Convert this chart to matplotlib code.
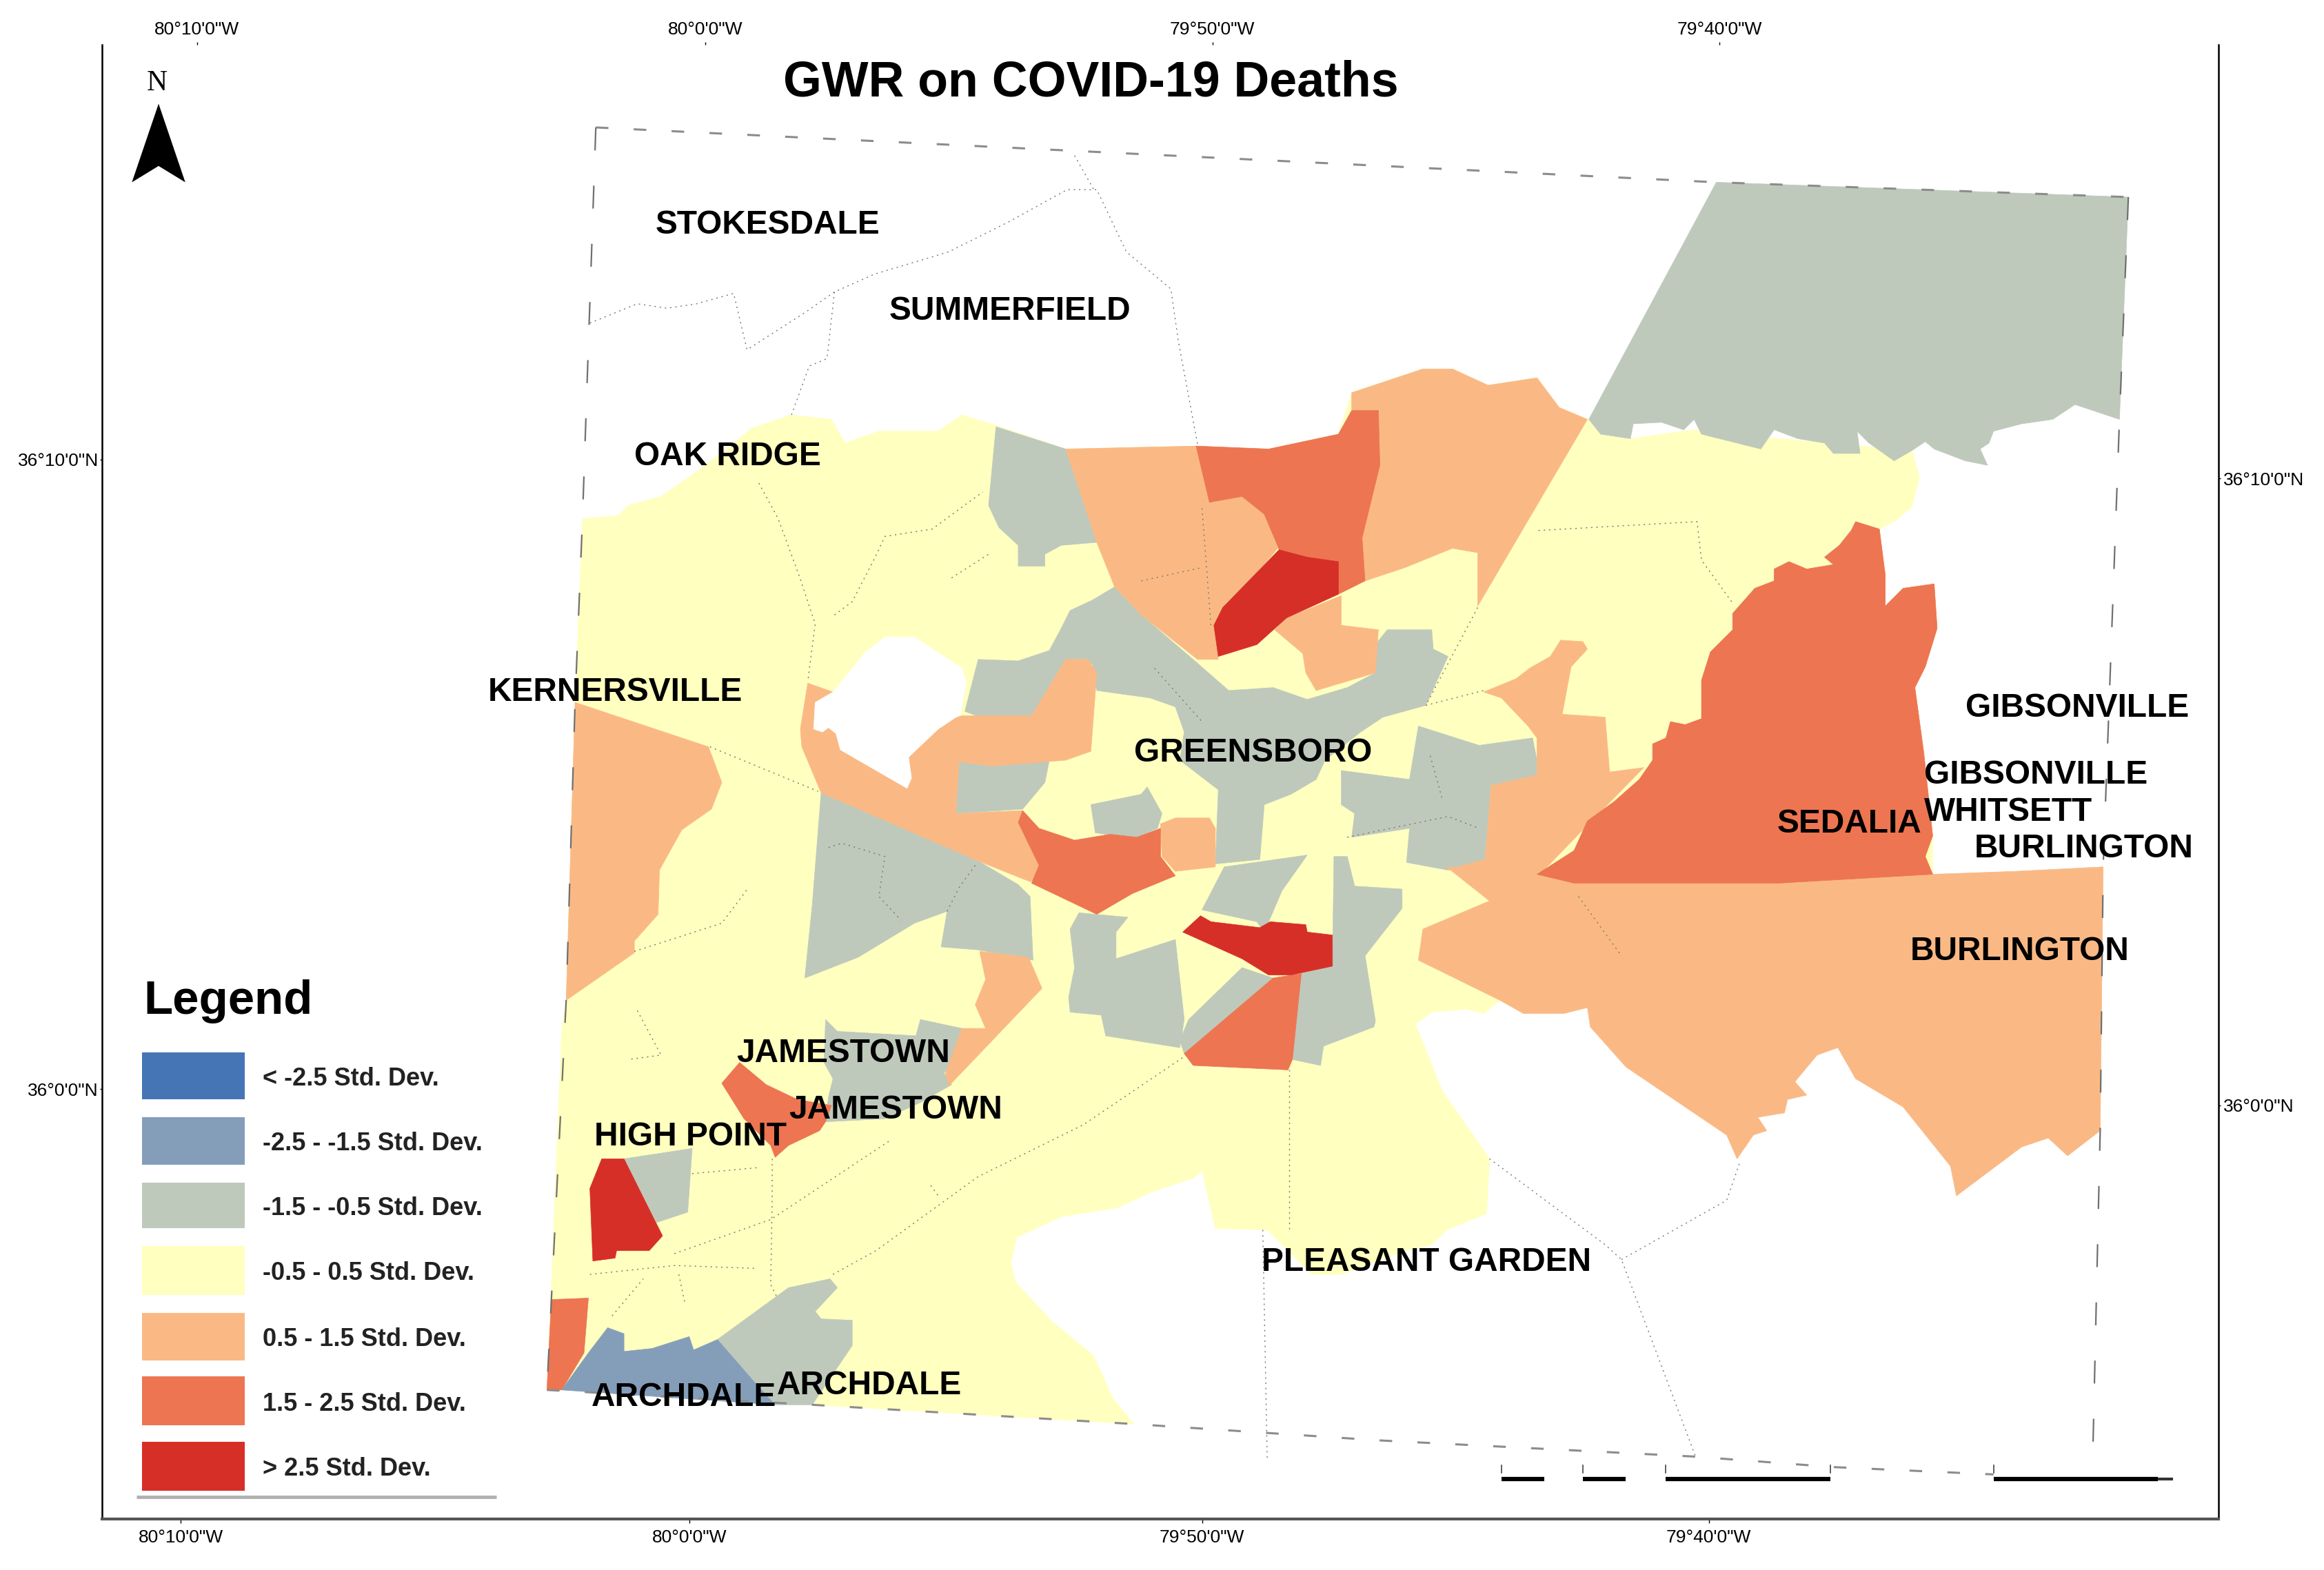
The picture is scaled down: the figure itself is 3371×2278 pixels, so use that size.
"""GWR on COVID-19 Deaths: choropleth map of Guilford County tracts."""

import matplotlib
matplotlib.use("Agg")
import matplotlib.pyplot as plt
from matplotlib.patches import Polygon, Rectangle

# map outlines, in map units of the sheet (x to the east, y downwards)
yellow_zones = [
    [(393, 350), (417, 348), (424, 341), (446, 335), (469, 319), (490, 303), (507, 289), (534, 280), (561, 283),
     (570, 299), (593, 291), (633, 291), (649, 280), (672, 287), (719, 303), (807, 301), (856, 303), (903, 293),
     (912, 265), (960, 249), (980, 249), (1004, 260), (1037, 255), (1052, 275), (1071, 283), (1100, 296),
     (1143, 290), (1200, 296), (1290, 304), (1295, 322), (1290, 342), (1278, 352), (1268, 357), (1272, 388),
     (1272, 409), (1284, 397), (1305, 394), (1307, 424), (1299, 450), (1292, 464), (1298, 508), (1304, 564),
     (1304, 590), (1071, 680), (1028, 684), (1012, 675), (1001, 684), (989, 681), (966, 683), (955, 691),
     (973, 736), (1005, 782), (1003, 819), (976, 830), (966, 840), (945, 845), (905, 860), (885, 860),
     (855, 830), (820, 829), (811, 790), (805, 795), (778, 804), (754, 815), (716, 821), (686, 835), (682, 852),
     (685, 865), (710, 892), (738, 915), (751, 944), (765, 961), (548, 948), (379, 938), (369, 938), (372, 867),
     (379, 694), (382, 675), (388, 474)],
]
gray_zones = [
    [(1072, 283), (1158, 123), (1436, 133), (1430, 283), (1400, 273), (1385, 283), (1364, 286), (1345, 291),
     (1342, 299), (1336, 303), (1341, 314), (1326, 311), (1305, 303), (1299, 298), (1290, 304), (1278, 311),
     (1261, 299), (1253, 291), (1255, 306), (1237, 306), (1231, 299), (1213, 296), (1197, 290), (1188, 303),
     (1172, 299), (1148, 293), (1143, 283), (1136, 290), (1121, 285), (1102, 286), (1100, 296), (1080, 293)],
    [(672, 288), (719, 303), (740, 366), (716, 368), (705, 374), (705, 382), (687, 382), (687, 368), (674, 356),
     (667, 341)],
    [(660, 445), (687, 446), (708, 439), (716, 424), (722, 412), (737, 405), (752, 396), (770, 415), (805, 445),
     (829, 466), (859, 464), (882, 472), (909, 464), (928, 454), (928, 435), (936, 425), (966, 425), (967, 438),
     (977, 443), (962, 476), (933, 484), (918, 494), (894, 513), (888, 526), (871, 536), (853, 543), (850, 580),
     (820, 583), (822, 533), (796, 513), (799, 494), (793, 477), (776, 471), (740, 466), (737, 448), (722, 445),
     (704, 471), (696, 483), (674, 489), (651, 480)],
    [(647, 514), (669, 517), (708, 513), (705, 528), (690, 546), (645, 549)],
    [(736, 543), (770, 536), (774, 531), (784, 549), (781, 559), (767, 565), (746, 563), (739, 562)],
    [(554, 535), (660, 581), (687, 597), (695, 605), (697, 648), (660, 641), (635, 639), (639, 615), (617, 623),
     (579, 646), (543, 660), (548, 611)],
    [(557, 688), (565, 696), (618, 699), (621, 688), (649, 694), (648, 711), (637, 724), (642, 732), (621, 744),
     (597, 755), (557, 757), (559, 740), (562, 728), (556, 717)],
    [(421, 782), (467, 775), (464, 818), (443, 825)],
    [(484, 904), (532, 869), (560, 863), (565, 869), (550, 885), (554, 890), (575, 891), (575, 908), (548, 948),
     (523, 948), (511, 935)],
    [(957, 490), (998, 503), (1034, 498), (1037, 513), (1037, 523), (1006, 530), (1002, 580), (976, 587),
     (949, 582), (951, 559), (912, 565), (914, 549), (905, 543), (905, 520), (951, 526)],
    [(826, 585), (882, 577), (865, 601), (853, 629), (848, 622), (811, 614)],
    [(900, 578), (909, 578), (914, 598), (946, 600), (946, 613), (921, 645), (899, 652)],
    [(921, 645), (928, 689), (927, 693), (893, 706), (891, 719), (872, 715), (878, 657), (899, 652)],
    [(838, 653), (859, 660), (799, 711), (796, 702), (802, 688)],
    [(722, 627), (728, 616), (761, 619), (753, 629), (753, 647), (793, 634), (799, 688), (796, 707),
     (746, 699), (743, 685), (722, 683), (721, 673), (725, 653)],
]
light_orange_zones = [
    [(1037, 590), (1062, 596), (1200, 596), (1304, 590), (1360, 588), (1419, 585), (1417, 763), (1395, 780),
     (1382, 768), (1364, 774), (1320, 807), (1316, 787), (1284, 747), (1252, 728), (1240, 707), (1226, 712),
     (1211, 730), (1219, 739), (1206, 742), (1204, 751), (1186, 754), (1192, 763), (1183, 766), (1172, 782),
     (1165, 766), (1097, 720), (1073, 693), (1071, 680), (1055, 684), (1028, 684), (1012, 675), (957, 648),
     (960, 627), (1005, 608), (976, 585)],
    [(976, 587), (1002, 580), (1006, 530), (1037, 523), (1037, 498), (1031, 490), (1013, 471), (1001, 467),
     (1023, 458), (1032, 451), (1046, 443), (1053, 432), (1068, 433), (1071, 438), (1060, 450), (1054, 482),
     (1083, 484), (1086, 521), (1109, 518), (1066, 562), (1037, 592)],
    [(545, 461), (562, 467), (580, 470), (600, 500), (649, 483), (696, 483), (719, 445), (734, 445), (740, 454),
     (736, 507), (719, 513), (669, 517), (647, 514), (645, 549), (690, 547), (695, 572), (704, 591), (695, 595),
     (660, 581), (554, 535), (541, 504), (540, 492)],
    [(783, 556), (793, 552), (816, 552), (820, 559), (820, 585), (793, 588), (784, 578)],
    [(661, 642), (694, 646), (703, 667), (640, 733), (638, 724), (649, 694), (665, 694), (658, 678), (665, 661)],
    [(719, 303), (807, 301), (816, 339), (838, 335), (853, 347), (862, 370), (819, 422), (822, 445), (808, 445),
     (770, 415), (752, 396), (740, 366)],
    [(912, 265), (960, 249), (980, 249), (1004, 260), (1037, 255), (1052, 275), (1071, 283), (997, 409),
     (997, 373), (980, 370), (948, 383), (921, 392), (919, 363), (931, 314), (930, 277), (912, 277)],
    [(905, 402), (905, 422), (930, 425), (928, 454), (888, 466), (881, 454), (879, 441), (860, 425), (868, 417)],
    [(388, 474), (478, 504), (487, 528), (480, 546), (460, 560), (445, 587), (444, 617), (428, 635), (428, 643),
     (382, 675)],
]
dark_orange_zones = [
    [(1268, 357), (1252, 352), (1249, 358), (1241, 368), (1231, 376), (1237, 381), (1219, 384), (1207, 379),
     (1197, 384), (1197, 392), (1184, 397), (1169, 414), (1169, 425), (1154, 440), (1148, 459), (1148, 485),
     (1137, 489), (1127, 487), (1124, 498), (1115, 502), (1115, 513), (1106, 526), (1089, 541), (1071, 554),
     (1062, 574), (1037, 590), (1062, 596), (1200, 596), (1304, 590), (1299, 578), (1304, 564), (1298, 508),
     (1292, 464), (1299, 450), (1307, 424), (1305, 394), (1284, 397), (1272, 409), (1272, 388)],
    [(807, 301), (856, 303), (903, 293), (912, 277), (930, 277), (931, 314), (919, 363), (921, 392), (903, 401),
     (903, 379), (882, 376), (863, 371), (853, 347), (838, 335), (816, 339)],
    [(690, 547), (701, 559), (725, 567), (749, 563), (767, 565), (783, 559), (783, 578), (793, 591), (764, 603),
     (740, 617), (696, 596), (701, 584), (687, 555)],
    [(878, 657), (872, 715), (869, 722), (805, 719), (799, 711), (859, 660)],
    [(499, 717), (487, 731), (502, 755), (520, 773), (523, 781), (532, 773), (553, 763), (557, 757), (561, 746),
     (538, 742), (517, 732)],
    [(372, 877), (397, 876), (394, 913), (379, 938), (369, 938)],
]
red_zones = [
    [(863, 371), (882, 376), (903, 379), (903, 401), (868, 417), (848, 435), (822, 443), (819, 422), (825, 410)],
    [(798, 629), (810, 618), (817, 622), (850, 626), (857, 622), (881, 624), (882, 629), (899, 631), (899, 652),
     (871, 658), (856, 658), (838, 647)],
    [(406, 782), (421, 782), (447, 834), (438, 844), (416, 844), (415, 849), (400, 851), (398, 802)],
]
blue_gray_zones = [
    [(410, 896), (421, 900), (421, 912), (440, 910), (465, 902), (468, 911), (484, 904), (511, 935), (523, 948),
     (379, 938), (397, 913)],
]
white_hole = [(550, 474), (562, 467), (584, 440), (597, 430), (617, 430), (649, 451), (652, 460), (648, 482),
              (633, 492), (613, 511), (615, 525), (612, 532), (567, 506), (564, 495), (559, 491), (555, 494),
              (549, 492)]

# county edge, the east and west sides are drawn with longer dashes
edge_north = [(402, 86), (1158, 123), (1436, 133)]
edge_south = [(369, 938), (548, 948), (765, 961), (930, 972), (1144, 983), (1236, 990), (1345, 995)]
edge_west = [(402, 86), (393, 350), (388, 474), (382, 675), (369, 938)]
edge_east = [(1436, 133), (1430, 283), (1419, 585), (1417, 763), (1412, 982)]

tract_lines = [
    [(398, 218), (430, 205), (450, 208), (470, 205), (495, 198), (504, 236), (543, 211), (563, 197), (590, 185),
     (640, 170), (680, 150), (720, 128), (740, 128), (760, 170), (790, 195), (795, 230), (808, 300)],
    [(725, 105), (738, 128)],
    [(563, 197), (558, 242), (546, 247), (534, 280)],
    [(852, 830), (855, 985)],
    [(1005, 782), (1083, 840), (1094, 850), (1144, 983)],
    [(1094, 850), (1165, 810), (1174, 784)],
    [(479, 504), (552, 534)],
    [(512, 326), (525, 350), (539, 388), (550, 421), (545, 460)],
    [(563, 415), (575, 406), (590, 377), (597, 362), (629, 357), (663, 332)],
    [(642, 390), (667, 374)],
    [(428, 642), (487, 623), (505, 599)],
    [(430, 682), (446, 712), (424, 715)],
    [(559, 572), (568, 569), (597, 578), (593, 605), (608, 621)],
    [(658, 584), (647, 599), (639, 615)],
    [(562, 860), (591, 844), (660, 794), (731, 759), (799, 713)],
    [(455, 846), (520, 823), (600, 770)],
    [(521, 782), (521, 809), (520, 867), (524, 875)],
    [(398, 860), (455, 854), (511, 856)],
    [(413, 888), (434, 863)],
    [(458, 860), (462, 879)],
    [(628, 800), (633, 807)],
    [(467, 792), (511, 788)],
    [(870, 722), (870, 830)],
    [(1038, 358), (1145, 352), (1148, 378), (1169, 407)],
    [(962, 476), (1001, 466)],
    [(997, 410), (962, 476)],
    [(1065, 605), (1094, 645)],
    [(770, 392), (811, 383)],
    [(811, 343), (817, 422)],
    [(779, 451), (811, 487)],
    [(909, 565), (977, 551), (998, 559)],
    [(965, 510), (973, 539)],
]

place_names = ["STOKESDALE", "SUMMERFIELD", "OAK RIDGE", "KERNERSVILLE", "GREENSBORO", "GIBSONVILLE", "GIBSONVILLE",
               "WHITSETT", "SEDALIA", "BURLINGTON", "BURLINGTON", "JAMESTOWN", "JAMESTOWN", "HIGH POINT",
               "PLEASANT GARDEN", "ARCHDALE", "ARCHDALE"]
place_x = [442, 600, 428, 329, 765, 1326, 1298, 1298, 1199, 1332, 1289, 497, 532, 401, 851, 399, 524]
place_y = [152, 210, 308, 467, 508, 478, 523, 548, 556, 573, 642, 711, 749, 767, 852, 943, 935]

legend_labels = ["< -2.5 Std. Dev.", "-2.5 - -1.5 Std. Dev.", "-1.5 - -0.5 Std. Dev.", "-0.5 - 0.5 Std. Dev.",
                 "0.5 - 1.5 Std. Dev.", "1.5 - 2.5 Std. Dev.", "> 2.5 Std. Dev."]
legend_colors = ["#4575B5", "#849EBA", "#BEC9BC", "#FFFFBF", "#FAB984", "#ED7551", "#D62F27"]
legend_top = [710, 754, 798, 841, 886, 929, 973]
legend_bottom = [742, 786, 829, 874, 918, 962, 1006]

top_ticks = [133, 476, 818, 1160]
bottom_ticks = [122, 465, 811, 1153]
lon_labels = ["80°10'0\"W", "80°0'0\"W", "79°50'0\"W", "79°40'0\"W"]
left_ticks = [310, 735]
right_ticks = [323, 746]
lat_labels = ["36°10'0\"N", "36°0'0\"N"]

scale_starts = [1013, 1068, 1124, 1345]
scale_ends = [1042, 1097, 1235, 1456]

SHEET_W = 1568
SHEET_H = 1059.5
FONT = "Liberation Sans"


def add_zones(ax, zones, color, order):
    for zone in zones:
        ax.add_patch(Polygon(zone, closed=True, facecolor=color, edgecolor=color, linewidth=0.5, zorder=order))


def draw_path(ax, path, **style):
    xs, ys = zip(*path)
    ax.plot(xs, ys, **style)


def main():
    fig = plt.figure(figsize=(33.71, 22.78), dpi=100)
    ax = fig.add_axes([69 / SHEET_W, 1 - 1025 / SHEET_H, (1497 - 69) / SHEET_W, (1025 - 30) / SHEET_H])
    ax.set_xlim(69, 1497)
    ax.set_ylim(1025, 30)

    add_zones(ax, yellow_zones, legend_colors[3], 1)
    add_zones(ax, gray_zones, legend_colors[2], 2)
    add_zones(ax, light_orange_zones, legend_colors[4], 3)
    add_zones(ax, dark_orange_zones, legend_colors[5], 4)
    add_zones(ax, blue_gray_zones, legend_colors[1], 4)
    add_zones(ax, red_zones, legend_colors[6], 5)
    add_zones(ax, [white_hole], "white", 5)

    # tract borders and the dashed county edge
    for line in tract_lines:
        draw_path(ax, line, color="#777777", lw=1, ls=(0, (1.5, 4)), zorder=6)
    for edge in [edge_north, edge_south]:
        draw_path(ax, edge, color="#8c8c8c", lw=2.2, ls=(0, (6, 12)), zorder=6)
    for edge in [edge_west, edge_east]:
        draw_path(ax, edge, color="#707070", lw=1.6, ls=(0, (15, 23)), zorder=6)

    for name, x, y in zip(place_names, place_x, place_y):
        ax.text(x, y, name, fontsize=34.4, fontweight="bold", family=FONT, ha="left", va="center", zorder=8)

    ax.text(736, 56, "GWR on COVID-19 Deaths", fontsize=51.7, fontweight="bold", family=FONT,
            ha="center", va="center", zorder=8)

    # north arrow
    ax.text(106, 56, "N", fontsize=30, family="Liberation Serif", ha="center", va="center")
    ax.add_patch(Polygon([(107, 70), (125, 123), (107, 112), (89, 123)], closed=True, facecolor="black",
                         edgecolor="none"))

    # legend
    ax.text(97, 676, "Legend", fontsize=49.7, fontweight="bold", family=FONT, ha="left", va="center")
    for label, color, top, bottom in zip(legend_labels, legend_colors, legend_top, legend_bottom):
        ax.add_patch(Rectangle((96, top), 69, bottom - top, facecolor=color, edgecolor="none"))
        ax.text(177, (top + bottom) / 2 + 2, label, fontsize=26, fontweight="bold", family=FONT, color="#222222",
                ha="left", va="center")
    ax.plot([92, 335], [1010, 1010], color="#b0b0b0", lw=3.5, solid_capstyle="butt")

    # scale bar
    for start, end in zip(scale_starts, scale_ends):
        ax.plot([start, end], [998, 998], color="black", lw=4.5, solid_capstyle="butt", zorder=7)
        ax.plot([start, start], [989, 994], color="#444444", lw=1.2, zorder=7)
    ax.plot([1456, 1466], [998, 998], color="#333333", lw=3, solid_capstyle="butt", zorder=7)
    ax.plot([1235, 1235], [989, 994], color="#444444", lw=1.2, zorder=7)

    # sheet frame, no line along the top
    ax.spines["top"].set_visible(False)
    ax.spines["left"].set_linewidth(1.8)
    ax.spines["right"].set_linewidth(1.8)
    ax.spines["bottom"].set_linewidth(3)
    ax.spines["bottom"].set_color("#555555")

    ax.set_xticks(bottom_ticks, lon_labels, fontsize=19, family=FONT)
    ax.set_yticks(left_ticks, lat_labels, fontsize=19, family=FONT)
    ax.tick_params(axis="both", length=4, width=1, pad=7)
    ax.tick_params(axis="y", pad=2, length=2)

    top_axis = ax.secondary_xaxis("top")
    top_axis.set_xticks(top_ticks, lon_labels, fontsize=19, family=FONT)
    top_axis.tick_params(length=3, width=1, pad=4)
    top_axis.spines["top"].set_visible(False)

    right_axis = ax.secondary_yaxis("right")
    right_axis.set_yticks(right_ticks, lat_labels, fontsize=19, family=FONT)
    right_axis.tick_params(length=2, width=1, pad=3)

    fig.savefig("out.png", dpi=100)


if __name__ == "__main__":
    main()
